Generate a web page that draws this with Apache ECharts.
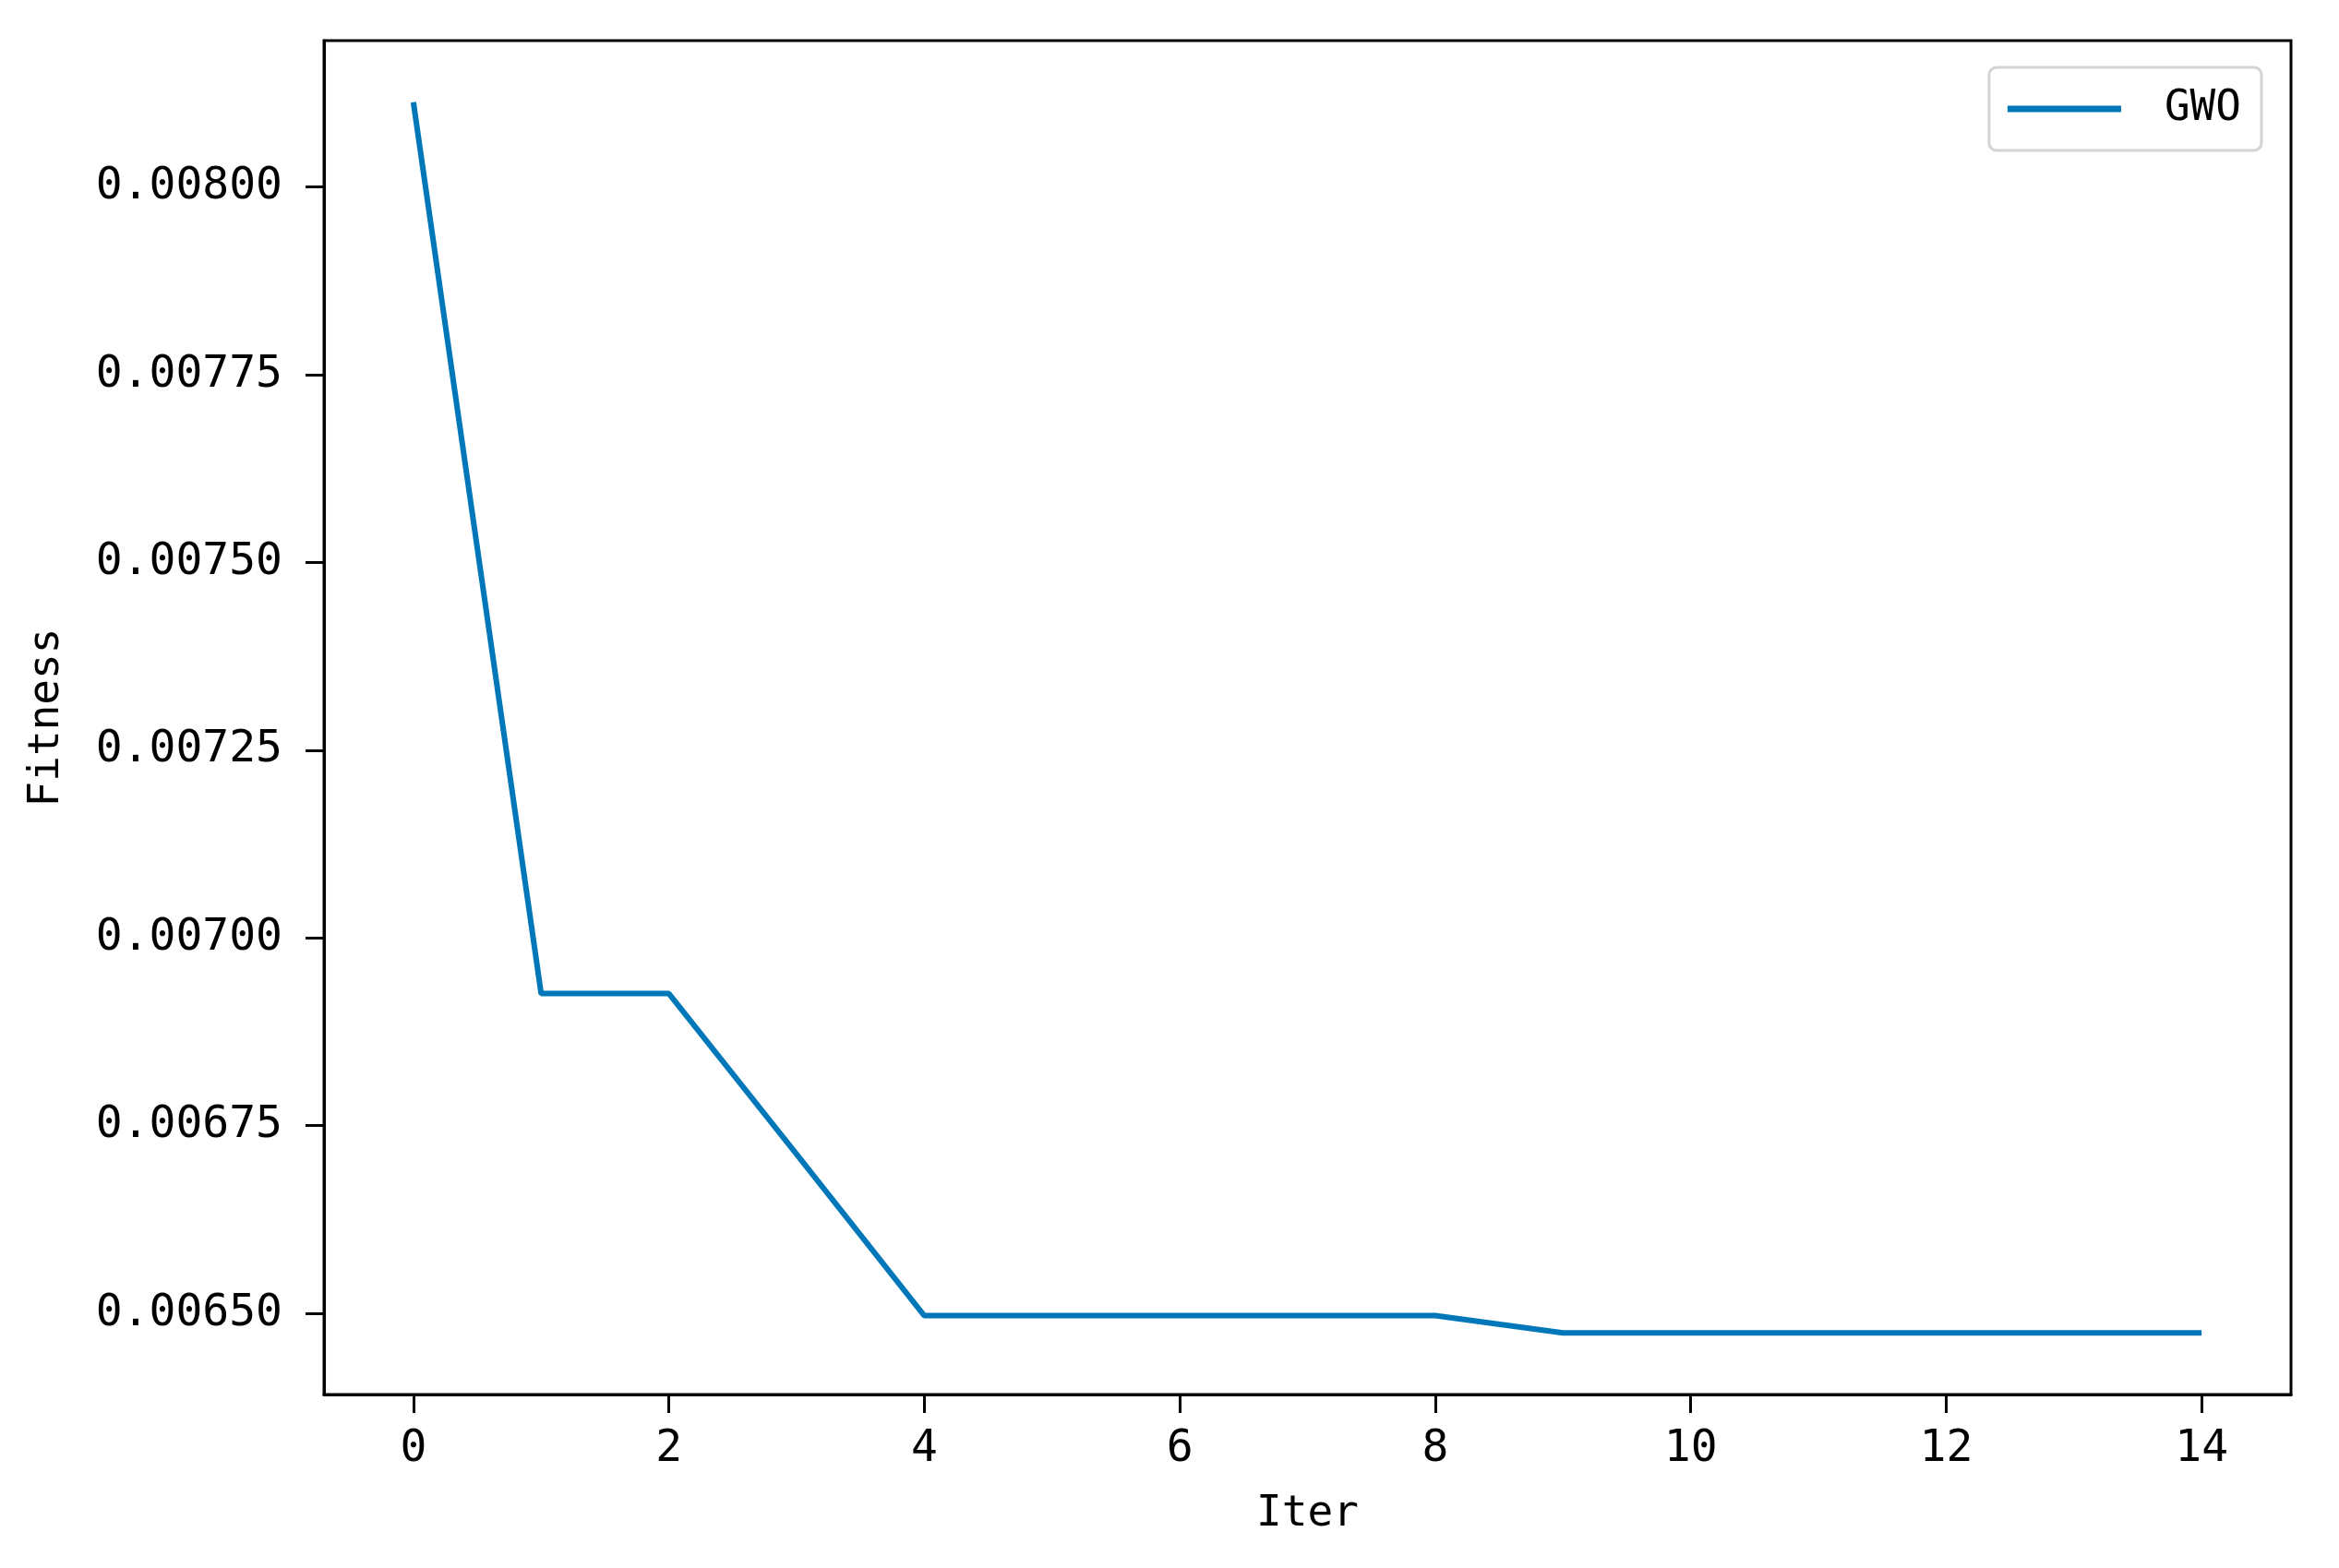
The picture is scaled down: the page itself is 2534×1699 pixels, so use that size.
<!DOCTYPE html>
<html>
<head>
<meta charset="utf-8">
<script src="https://cdn.jsdelivr.net/npm/echarts@6/dist/echarts.min.js"></script>
<style>
  html, body { margin: 0; padding: 0; background: #fff; }
  #chart { width: 2534px; height: 1699px; }
</style>
</head>
<body>
<div id="chart"></div>
<script>
// convergence curve
const iters = [0, 1, 2, 3, 4, 5, 6, 7, 8, 9, 10, 11, 12, 13, 14]
const fitness = [0.008113, 0.006926, 0.006926, 0.006712, 0.006497, 0.006497, 0.006497, 0.006497,
  0.006497, 0.006474, 0.006474, 0.006474, 0.006474, 0.006474, 0.006474]
const xTicks = [0, 2, 4, 6, 8, 10, 12, 14]
const yTicks = [0.0065, 0.00675, 0.007, 0.00725, 0.0075, 0.00775, 0.008]
const seriesName = 'GWO'
const lineColor = '#0077b8'
const font = '"DejaVu Sans Mono", monospace'

const chart = echarts.init(document.getElementById('chart'))
const points = iters.map((x, i) => [x, fitness[i]])

chart.setOption({
  animation: false,
  backgroundColor: '#fff',
  grid: {
    left: 351,
    right: 52,
    top: 44,
    bottom: 188,
    show: true,
    borderColor: '#000',
    borderWidth: 3
  },
  legend: {
    data: [seriesName],
    right: 84,
    top: 73,
    padding: [22, 22, 22, 20],
    borderColor: '#d4d4d4',
    borderWidth: 3,
    borderRadius: 8,
    itemWidth: 123,
    itemHeight: 7,
    icon: 'rect',
    textStyle: {
      fontFamily: font,
      fontSize: 46,
      color: '#000',
      padding: [0, 0, 0, 42]
    }
  },
  xAxis: {
    type: 'value',
    min: -0.7,
    max: 14.7,
    name: 'Iter',
    nameLocation: 'middle',
    nameGap: 107,
    nameTextStyle: { fontFamily: font, fontSize: 46, color: '#000' },
    splitLine: { show: false },
    axisLine: { show: true, onZero: false, lineStyle: { color: '#000', width: 3 } },
    axisTick: {
      show: true,
      customValues: xTicks,
      length: 20,
      lineStyle: { color: '#000', width: 3 }
    },
    axisLabel: {
      customValues: xTicks,
      margin: 36,
      fontFamily: font,
      fontSize: 48,
      color: '#000'
    }
  },
  yAxis: {
    type: 'value',
    min: 0.006392,
    max: 0.008195,
    name: 'Fitness',
    nameLocation: 'middle',
    nameGap: 277,
    nameRotate: 90,
    nameTextStyle: { fontFamily: font, fontSize: 46, color: '#000' },
    splitLine: { show: false },
    axisLine: { show: true, onZero: false, lineStyle: { color: '#000', width: 3 } },
    axisTick: {
      show: true,
      customValues: yTicks,
      length: 20,
      lineStyle: { color: '#000', width: 3 }
    },
    axisLabel: {
      customValues: yTicks,
      margin: 45,
      fontFamily: font,
      fontSize: 48,
      color: '#000',
      formatter: v => v.toFixed(5)
    }
  },
  series: [{
    name: seriesName,
    type: 'line',
    data: points,
    showSymbol: false,
    symbol: 'none',
    color: lineColor,
    lineStyle: { color: lineColor, width: 6 }
  }]
})
</script>
</body>
</html>
